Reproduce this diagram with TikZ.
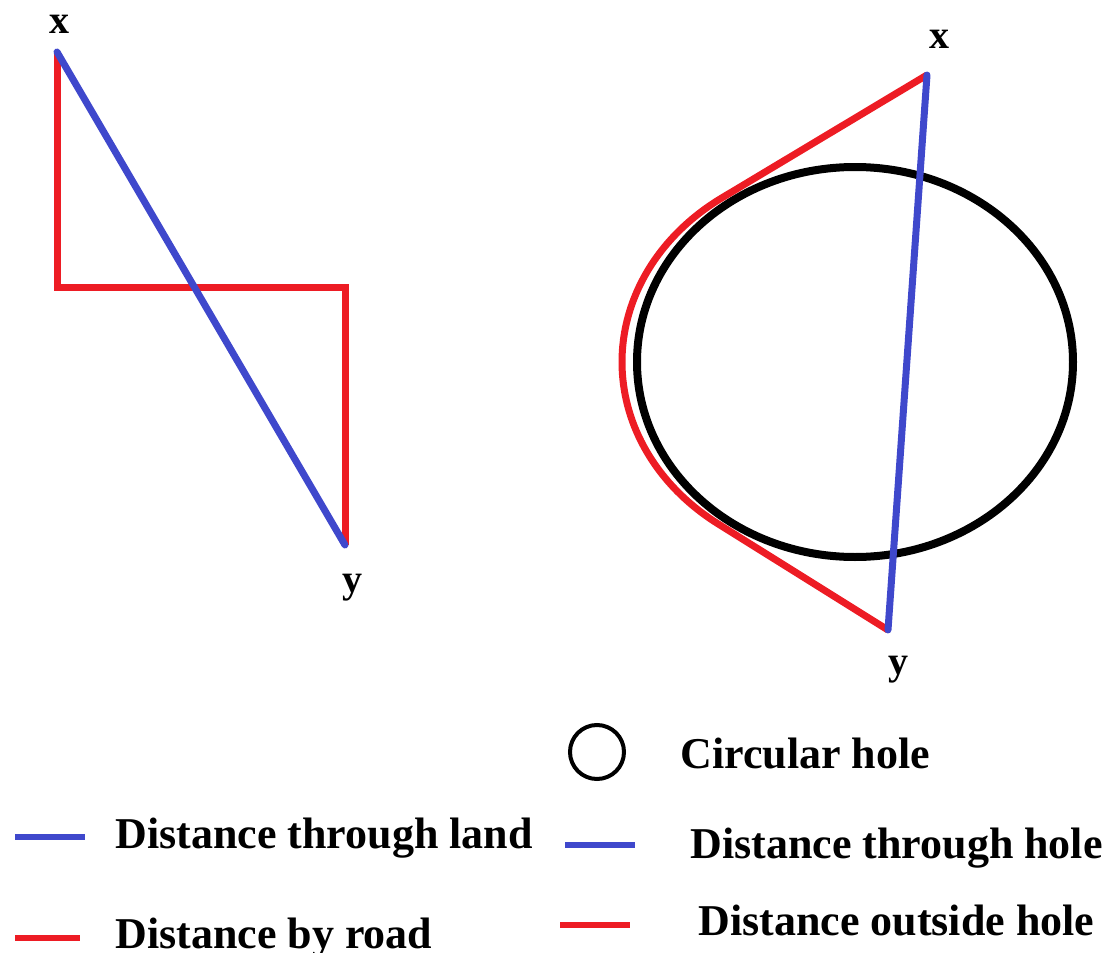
\documentclass[tikz,border=0pt]{standalone}
\usepackage{fontspec}
\setmainfont{Liberation Serif}
\definecolor{paintred}{RGB}{237,28,36}
\definecolor{paintblue}{RGB}{63,72,204}
\begin{document}
\begin{tikzpicture}[x=0.5pt,y=-0.5pt,
  road/.style={paintred,line width=3.5pt},
  land/.style={paintblue,line width=3.5pt,line cap=round},
  keyline/.style={line width=3pt},
  pointlbl/.style={font=\fontsize{20}{24}\selectfont\bfseries,inner sep=0pt},
  keytext/.style={anchor=base west,font=\fontsize{22}{26}\selectfont\bfseries,inner sep=0pt}]
\useasboundingbox (0,0) rectangle (1110,953);
% left: by road or straight across land
\coordinate (lx) at (57,52);
\coordinate (lbend) at (57,287);
\coordinate (rbend) at (345,287);
\coordinate (ly) at (345,545);
\draw[road,line join=miter] (lx)--(lbend)--(rbend)--(ly);
\draw[land] (lx)--(ly);
\node[pointlbl] (lxlbl) at (59,24) {x};
\node[pointlbl] (lylbl) at (352,588) {y};
% right: round the hole or through it
\coordinate (hole) at (855,362);
\coordinate (rx) at (927,75);
\coordinate (ry) at (888,630);
\coordinate (tantop) at (721.7,198);
\draw[line width=4pt] (hole) ellipse[x radius=218,y radius=195];
\draw[road] (rx)--(tantop) arc[start angle=235.1,end angle=126.05,x radius=233,y radius=200]--(ry);
\draw[land] (rx)--(ry);
\node[pointlbl] (rxlbl) at (939,39) {x};
\node[pointlbl] (rylbl) at (898,670) {y};
% legend
\node[draw,circle,line width=2pt,minimum size=27pt,inner sep=0pt] (holekey) at (597,752) {};
\node[keytext] (holetext) at (680,768) {Circular hole};
\coordinate (k1a) at (15,837); \coordinate (k1b) at (85,837);
\draw[land,keyline,line cap=butt] (k1a)--(k1b);
\node[keytext] (landtext) at (115,848) {Distance through land};
\coordinate (k2a) at (15,938); \coordinate (k2b) at (80,938);
\draw[road,keyline] (k2a)--(k2b);
\node[keytext] (roadtext) at (115,948) {Distance by road};
\coordinate (k3a) at (565,845); \coordinate (k3b) at (635,845);
\draw[land,keyline,line cap=butt] (k3a)--(k3b);
\node[keytext] (throughtext) at (690,858) {Distance through hole};
\coordinate (k4a) at (560,925); \coordinate (k4b) at (630,925);
\draw[road,keyline] (k4a)--(k4b);
\node[keytext] (outsidetext) at (698,935) {Distance outside hole};
\end{tikzpicture}
\end{document}
